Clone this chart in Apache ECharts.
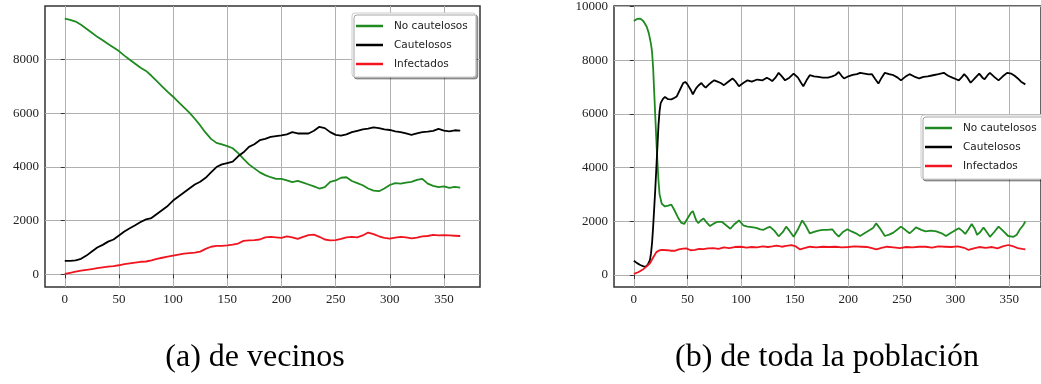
<!DOCTYPE html>
<html>
<head>
<meta charset="utf-8">
<script src="https://cdn.jsdelivr.net/npm/echarts@6/dist/echarts.min.js"></script>
<style>
  html, body { margin: 0; padding: 0; background: #fff; }
  #chart-container { width: 1041px; height: 384px; }
</style>
</head>
<body>
<div id="chart-container"></div>
<script>
var dom = document.getElementById('chart-container');
var myChart = echarts.init(dom, null, { renderer: 'canvas' });

var names = ['No cautelosos', 'Cautelosos', 'Infectados'];
var captions = ['(a) de vecinos', '(b) de toda la población'];
var xTicks = [0, 50, 100, 150, 200, 250, 300, 350];
var yTicksA = [0, 2000, 4000, 6000, 8000];
var yTicksB = [0, 2000, 4000, 6000, 8000, 10000];

// (a) de vecinos: [dia, valor]
var aGreen = [[0,9530],[5,9480],[10,9420],[15,9300],[20,9150],[25,9000],[30,8850],[35,8720],[40,8580],[45,8450],[50,8320],[55,8150],[60,8000],[65,7850],[70,7700],[75,7580],[80,7400],[85,7200],[90,7000],[95,6800],[100,6620],[105,6420],[110,6220],[115,6030],[120,5800],[125,5550],[130,5280],[135,5050],[140,4900],[145,4840],[150,4780],[155,4700],[160,4520],[165,4300],[170,4100],[175,3950],[180,3800],[185,3700],[190,3620],[195,3560],[200,3560],[205,3500],[210,3440],[215,3480],[220,3420],[225,3350],[230,3280],[235,3200],[240,3250],[245,3450],[250,3500],[255,3600],[260,3620],[265,3480],[270,3400],[275,3320],[280,3200],[285,3120],[290,3100],[295,3200],[300,3330],[305,3400],[310,3380],[315,3420],[320,3450],[325,3520],[330,3560],[335,3380],[340,3300],[345,3250],[350,3280],[355,3220],[360,3260],[365,3230]];
var aBlack = [[0,500],[5,500],[10,520],[15,580],[20,700],[25,850],[30,1000],[35,1100],[40,1220],[45,1300],[50,1450],[55,1600],[60,1720],[65,1830],[70,1950],[75,2050],[80,2100],[85,2250],[90,2400],[95,2550],[100,2750],[105,2900],[110,3050],[115,3200],[120,3350],[125,3450],[130,3600],[135,3800],[140,4000],[145,4100],[150,4150],[155,4200],[160,4400],[165,4550],[170,4750],[175,4850],[180,5000],[185,5050],[190,5120],[195,5150],[200,5180],[205,5220],[210,5300],[215,5250],[220,5250],[225,5250],[230,5350],[235,5500],[240,5450],[245,5300],[250,5200],[255,5170],[260,5220],[265,5300],[270,5350],[275,5400],[280,5430],[285,5480],[290,5450],[295,5400],[300,5380],[305,5330],[310,5300],[315,5250],[320,5200],[325,5250],[330,5300],[335,5320],[340,5350],[345,5420],[350,5360],[355,5330],[360,5370],[365,5360]];
var aRed = [[0,20],[5,60],[10,100],[15,140],[20,170],[25,200],[30,230],[35,260],[40,290],[45,310],[50,340],[55,380],[60,410],[65,440],[70,470],[75,480],[80,520],[85,580],[90,620],[95,660],[100,700],[105,740],[110,770],[115,790],[120,810],[125,850],[130,950],[135,1030],[140,1060],[145,1060],[150,1080],[155,1110],[160,1150],[165,1250],[170,1270],[175,1280],[180,1300],[185,1380],[190,1400],[195,1380],[200,1360],[205,1420],[210,1380],[215,1320],[220,1400],[225,1460],[230,1480],[235,1400],[240,1300],[245,1270],[250,1280],[255,1320],[260,1380],[265,1400],[270,1380],[275,1450],[280,1560],[285,1500],[290,1420],[295,1360],[300,1330],[305,1370],[310,1400],[315,1380],[320,1340],[325,1370],[330,1420],[335,1430],[340,1470],[345,1450],[350,1460],[355,1450],[360,1440],[365,1430]];

// (b) de toda la poblacion
var bGreen = [[0,9460],[3,9540],[6,9550],[9,9450],[12,9250],[14,9000],[16,8600],[17,8300],[18,7700],[19,6800],[20,5900],[21,5000],[22,4200],[23,3500],[24,3000],[26,2650],[29,2550],[32,2580],[35,2620],[38,2400],[41,2150],[44,1950],[47,1900],[50,2100],[53,2300],[55,2380],[58,2050],[60,1930],[63,2050],[65,2100],[68,1950],[71,1820],[74,1900],[78,1980],[82,1980],[86,1850],[90,1720],[94,1900],[98,2030],[102,1850],[106,1800],[110,1780],[114,1750],[118,1700],[121,1680],[124,1750],[127,1790],[131,1650],[135,1440],[139,1600],[142,1800],[145,1650],[149,1420],[153,1700],[157,2030],[160,1850],[164,1550],[168,1600],[172,1650],[176,1680],[180,1680],[185,1700],[188,1550],[191,1430],[195,1600],[199,1700],[203,1620],[207,1550],[211,1450],[215,1550],[220,1670],[223,1750],[226,1920],[230,1700],[234,1450],[238,1500],[242,1575],[246,1700],[249,1800],[253,1680],[257,1550],[260,1650],[263,1770],[268,1680],[272,1620],[277,1650],[282,1620],[287,1550],[291,1450],[295,1550],[299,1650],[303,1740],[306,1650],[309,1530],[312,1700],[315,1900],[318,1700],[320,1490],[323,1600],[326,1770],[329,1600],[332,1420],[336,1600],[340,1800],[344,1650],[349,1450],[354,1420],[357,1500],[360,1700],[363,1850],[365,1990]];
var bBlack = [[0,530],[3,440],[6,370],[9,320],[11,310],[13,380],[15,550],[16,800],[17,1200],[18,1800],[19,2500],[20,3200],[21,4000],[22,4800],[23,5600],[24,6100],[25,6400],[27,6550],[29,6630],[32,6550],[35,6540],[38,6600],[40,6650],[43,6900],[46,7150],[48,7190],[50,7100],[53,6900],[55,6730],[58,6950],[60,7050],[63,7150],[65,7050],[67,6980],[70,7100],[73,7200],[75,7250],[78,7200],[81,7150],[84,7070],[88,7200],[92,7320],[95,7200],[98,7030],[102,7150],[106,7250],[110,7200],[115,7280],[120,7250],[124,7350],[127,7280],[129,7220],[132,7350],[135,7530],[138,7400],[141,7250],[145,7350],[149,7500],[153,7350],[156,7150],[158,7030],[161,7250],[164,7440],[168,7400],[172,7380],[176,7350],[181,7350],[185,7400],[188,7450],[191,7560],[194,7400],[196,7320],[200,7400],[204,7450],[208,7480],[211,7530],[215,7500],[219,7470],[222,7480],[225,7300],[228,7130],[231,7350],[234,7530],[238,7480],[242,7440],[246,7350],[249,7250],[253,7380],[257,7480],[261,7400],[266,7320],[270,7380],[274,7400],[279,7440],[284,7480],[289,7530],[293,7420],[297,7350],[300,7300],[303,7250],[306,7380],[308,7480],[311,7350],[314,7160],[318,7330],[322,7500],[325,7350],[327,7290],[330,7450],[332,7530],[336,7380],[340,7250],[344,7400],[348,7530],[352,7500],[355,7420],[358,7320],[361,7200],[365,7100]];
var bRed = [[0,40],[4,100],[8,190],[12,320],[15,435],[18,650],[21,850],[24,920],[27,930],[31,920],[35,900],[38,900],[42,950],[46,980],[49,990],[53,920],[57,930],[61,970],[65,960],[69,990],[74,1000],[79,970],[84,1030],[89,1000],[94,1040],[100,1050],[105,1020],[110,1040],[115,1030],[120,1060],[125,1040],[129,1060],[133,1090],[138,1050],[142,1080],[147,1110],[151,1060],[155,950],[159,1000],[164,1050],[170,1030],[176,1050],[182,1040],[188,1050],[194,1030],[200,1040],[206,1060],[212,1050],[218,1040],[222,1000],[226,955],[231,1010],[236,1050],[242,1030],[248,1000],[254,1040],[260,1030],[266,1050],[272,1050],[278,1020],[284,1060],[290,1050],[296,1040],[302,1060],[308,1010],[312,930],[317,990],[322,1040],[328,1010],[334,1040],[339,990],[344,1060],[349,1115],[354,1060],[358,1000],[362,970],[365,955]];

var colors = ['#1f8a1f', '#000000', '#f0141e'];
var spine = '#333333';
var serif = '"Liberation Serif", "DejaVu Serif", serif';

function plain(v) { return String(v); }

function xAxisFor(gridIndex, min, max) {
  return {
    type: 'value', gridIndex: gridIndex, min: min, max: max,
    axisLine: { show: false },
    axisTick: { show: true, length: 4, lineStyle: { color: spine }, customValues: xTicks },
    axisLabel: { customValues: xTicks, formatter: plain, color: '#222', fontFamily: serif, fontSize: 13, margin: 6 },
    splitLine: { show: true, lineStyle: { color: '#b0b0b0', width: 1 } }
  };
}
function yAxisFor(gridIndex, min, max, ticks) {
  return {
    type: 'value', gridIndex: gridIndex, min: min, max: max,
    axisLine: { show: false },
    axisTick: { show: true, length: 4, lineStyle: { color: spine }, customValues: ticks },
    axisLabel: { customValues: ticks, formatter: plain, color: '#222', fontFamily: serif, fontSize: 13, margin: 6 },
    splitLine: { show: true, lineStyle: { color: '#b0b0b0', width: 1 } }
  };
}
function lineSeries(i, grid, data) {
  return {
    type: 'line', name: names[i], xAxisIndex: grid, yAxisIndex: grid,
    data: data, showSymbol: false, symbol: 'none',
    lineStyle: { color: colors[i], width: 1.8 }, itemStyle: { color: colors[i] }
  };
}
function legendAt(left, top) {
  return {
    data: names, orient: 'vertical', left: left, top: top,
    icon: 'rect', itemWidth: 27, itemHeight: 2.5, itemGap: 5,
    padding: [6, 8, 6, 4],
    backgroundColor: '#fff', borderColor: '#cccccc', borderWidth: 1, borderRadius: 3,
    shadowColor: 'rgba(0,0,0,0.35)', shadowBlur: 0, shadowOffsetX: 2, shadowOffsetY: 2,
    selectedMode: false,
    textStyle: { fontFamily: '"DejaVu Sans", sans-serif', fontSize: 10.5, color: '#222', lineHeight: 14, padding: [0, 0, 0, 6] }
  };
}

var option = {
  animation: false,
  backgroundColor: '#fff',
  grid: [
    { left: 45, top: 6, width: 435, height: 281, show: true, borderColor: spine, borderWidth: 1.5, backgroundColor: 'transparent' },
    { left: 614, top: 6, width: 430, height: 281, show: true, borderColor: spine, borderWidth: 1.5, backgroundColor: 'transparent' }
  ],
  xAxis: [xAxisFor(0, -18.25, 383.25), xAxisFor(1, -18.5, 379.6)],
  yAxis: [yAxisFor(0, -470, 10000, yTicksA), yAxisFor(1, -450, 10020, yTicksB)],
  legend: [legendAt(352, 13), legendAt(921, 115)],
  series: [
    lineSeries(0, 0, aGreen), lineSeries(1, 0, aBlack), lineSeries(2, 0, aRed),
    lineSeries(0, 1, bGreen), lineSeries(1, 1, bBlack), lineSeries(2, 1, bRed)
  ],
  graphic: [
    { type: 'text', x: 255, y: 358, style: { text: captions[0], font: '32px ' + serif, fill: '#000', align: 'center', verticalAlign: 'middle' } },
    { type: 'text', x: 827, y: 358, style: { text: captions[1], font: '32px ' + serif, fill: '#000', align: 'center', verticalAlign: 'middle' } }
  ]
};

myChart.setOption(option);
window.addEventListener('resize', myChart.resize);
</script>
</body>
</html>
